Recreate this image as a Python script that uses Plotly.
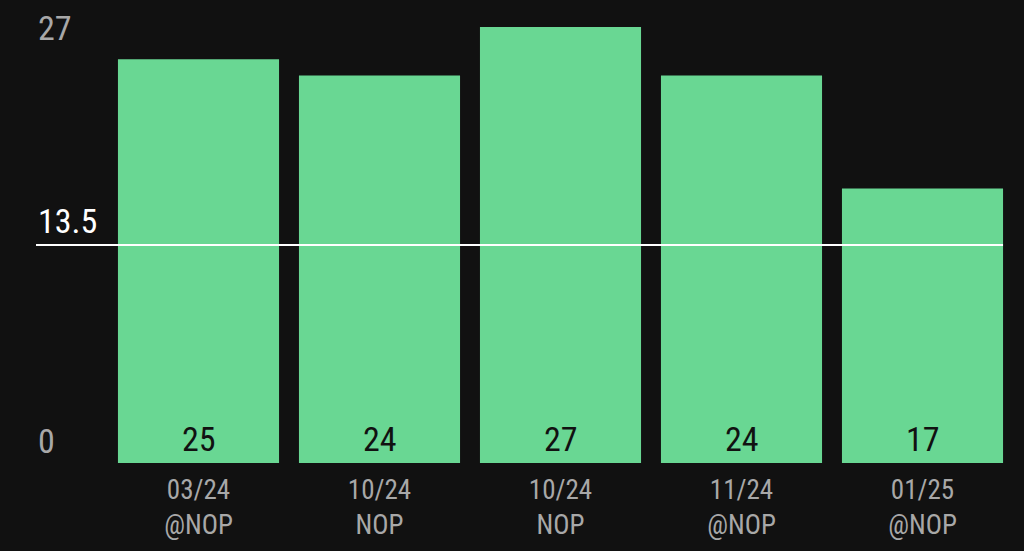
import plotly.graph_objects as go

# data
categories = ["03/24<br>@NOP", "10/24<br>NOP", "10/24<br>NOP", "11/24<br>@NOP", "01/25<br>@NOP"]
values = [25, 24, 27, 24, 17]
y_ticks = [0, 13.5, 27]
y_tick_labels = ["0", "13.5", "27"]
reference_value = 13.5

FONT = "Roboto Condensed, Roboto, sans-serif"
BG = "#111111"
GREEN = "#69D793"

W, H = 1024, 551
ML, MR, MT, MB = 108, 11, 27, 88
plot_w = W - ML - MR
bargap = 0.11

x = list(range(len(values)))

fig = go.Figure()
fig.add_trace(go.Bar(
    x=x,
    y=values,
    marker=dict(color=GREEN, line=dict(width=0)),
    hoverinfo="skip",
))

# value labels near the bottom of each bar
for xi, v in zip(x, values):
    fig.add_annotation(
        x=xi, y=0, text=str(v), showarrow=False,
        yanchor="bottom", yshift=2,
        font=dict(family=FONT, size=34, color="#111111"),
    )

# reference line from the tick label column to the right edge of the last bar
last_edge = (len(values) - 1) + 0.5 * (1 - bargap)
x1_paper = (last_edge + 0.5) / len(values)
x0_paper = -(ML - 36) / plot_w
fig.add_shape(type="line", xref="paper", yref="y",
              x0=x0_paper, x1=x1_paper, y0=reference_value, y1=reference_value,
              line=dict(color="#ffffff", width=2), layer="above")

# y tick labels as annotations above their values
for val, lab in zip(y_ticks, y_tick_labels):
    is_ref = val == reference_value
    top = val == max(y_ticks)
    fig.add_annotation(
        x=x0_paper, xref="paper", y=val, yref="y",
        text=lab, showarrow=False, xanchor="left",
        yanchor="middle" if top else "bottom",
        yshift=-1 if top else (2 if is_ref else 0),
        font=dict(family=FONT, size=34, color="#ffffff" if is_ref else "#a8a8a8"),
    )

fig.update_layout(
    width=W, height=H,
    margin=dict(l=ML, r=MR, t=MT, b=MB),
    paper_bgcolor=BG, plot_bgcolor=BG,
    bargap=bargap,
    showlegend=False,
    xaxis=dict(
        tickmode="array", tickvals=x, ticktext=categories,
        range=[-0.5, len(values) - 0.5],
        showgrid=False, zeroline=False, showline=False, ticks="",
        tickfont=dict(family=FONT, size=27, color="#a8a8a8"),
        ticklabelstandoff=8,
        automargin=False,
        fixedrange=True,
    ),
    yaxis=dict(
        range=[0, 27], showgrid=False, zeroline=False, showline=False,
        showticklabels=False, fixedrange=True,
    ),
)

fig.write_html(
    "out.html",
    config={"displayModeBar": False},
    post_script="document.body.style.margin='0';document.body.style.background='#111111';",
)
